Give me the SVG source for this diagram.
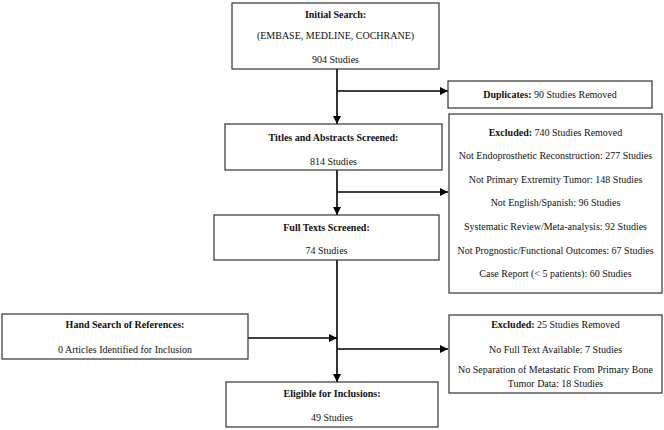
<svg xmlns="http://www.w3.org/2000/svg" width="664" height="430" viewBox="0 0 664 430">
<style>
.box{fill:#fff;stroke:#333;stroke-width:1.2}
text{font-family:"Liberation Serif","Times New Roman",serif;font-size:10px;fill:#111;text-anchor:middle}
.b{font-weight:bold}
.c{stroke:#000;stroke-width:1.6;fill:none}
</style>
<defs>
<marker id="ah" viewBox="0 0 10 10" refX="10" refY="5" markerWidth="8" markerHeight="8" markerUnits="userSpaceOnUse" orient="auto">
<path d="M0,0 L10,5 L0,10 z" fill="#000"/>
</marker>
</defs>
<rect width="664" height="430" fill="#fff"/>
<g id="connectors">
<line class="c" x1="337" y1="69" x2="337" y2="124" marker-end="url(#ah)"/>
<line class="c" x1="337" y1="91" x2="448" y2="91" marker-end="url(#ah)"/>
<line class="c" x1="337" y1="170" x2="337" y2="215" marker-end="url(#ah)"/>
<line class="c" x1="337" y1="192" x2="448" y2="192" marker-end="url(#ah)"/>
<line class="c" x1="337" y1="260" x2="337" y2="382" marker-end="url(#ah)"/>
<line class="c" x1="248" y1="338" x2="337" y2="338" marker-end="url(#ah)"/>
<line class="c" x1="337" y1="349" x2="448" y2="349" marker-end="url(#ah)"/>
</g>
<g id="initial">
<rect class="box" x="232" y="3" width="207" height="66"/>
<text class="b" x="335.5" y="18">Initial Search:</text>
<text x="335.5" y="39">(EMBASE, MEDLINE, COCHRANE)</text>
<text x="335.5" y="63">904 Studies</text>
</g>
<g id="duplicates">
<rect class="box" x="448" y="81" width="204" height="27"/>
<text x="550" y="98"><tspan class="b">Duplicates:</tspan> 90 Studies Removed</text>
</g>
<g id="titles">
<rect class="box" x="225" y="124" width="217" height="46"/>
<text class="b" x="333.5" y="140.5">Titles and Abstracts Screened:</text>
<text x="333.5" y="164.5">814 Studies</text>
</g>
<g id="excluded1">
<rect class="box" x="449" y="114" width="213" height="179"/>
<text x="555.5" y="135.5"><tspan class="b">Excluded:</tspan> 740 Studies Removed</text>
<text x="555.5" y="159">Not Endoprosthetic Reconstruction: 277 Studies</text>
<text x="555.5" y="182.5">Not Primary Extremity Tumor: 148 Studies</text>
<text x="555.5" y="206">Not English/Spanish: 96 Studies</text>
<text x="555.5" y="230">Systematic Review/Meta-analysis: 92 Studies</text>
<text x="555.5" y="253.5">Not Prognostic/Functional Outcomes: 67 Studies</text>
<text x="555.5" y="277">Case Report (&lt; 5 patients): 60 Studies</text>
</g>
<g id="fulltext">
<rect class="box" x="214" y="215" width="225" height="45"/>
<text class="b" x="326.5" y="230.5">Full Texts Screened:</text>
<text x="326.5" y="253.5">74 Studies</text>
</g>
<g id="handsearch">
<rect class="box" x="2" y="314" width="246" height="45"/>
<text class="b" x="125" y="327.5">Hand Search of References:</text>
<text x="125" y="352.5">0 Articles Identified for Inclusion</text>
</g>
<g id="excluded2">
<rect class="box" x="449" y="315" width="213" height="78"/>
<text x="555.5" y="327.5"><tspan class="b">Excluded:</tspan> 25 Studies Removed</text>
<text x="555.5" y="352.5">No Full Text Available: 7 Studies</text>
<text x="555.5" y="372.5">No Separation of Metastatic From Primary Bone</text>
<text x="555.5" y="387">Tumor Data: 18 Studies</text>
</g>
<g id="eligible">
<rect class="box" x="226" y="382" width="212" height="45"/>
<text class="b" x="332" y="396.5">Eligible for Inclusions:</text>
<text x="332" y="420.5">49 Studies</text>
</g>
</svg>
